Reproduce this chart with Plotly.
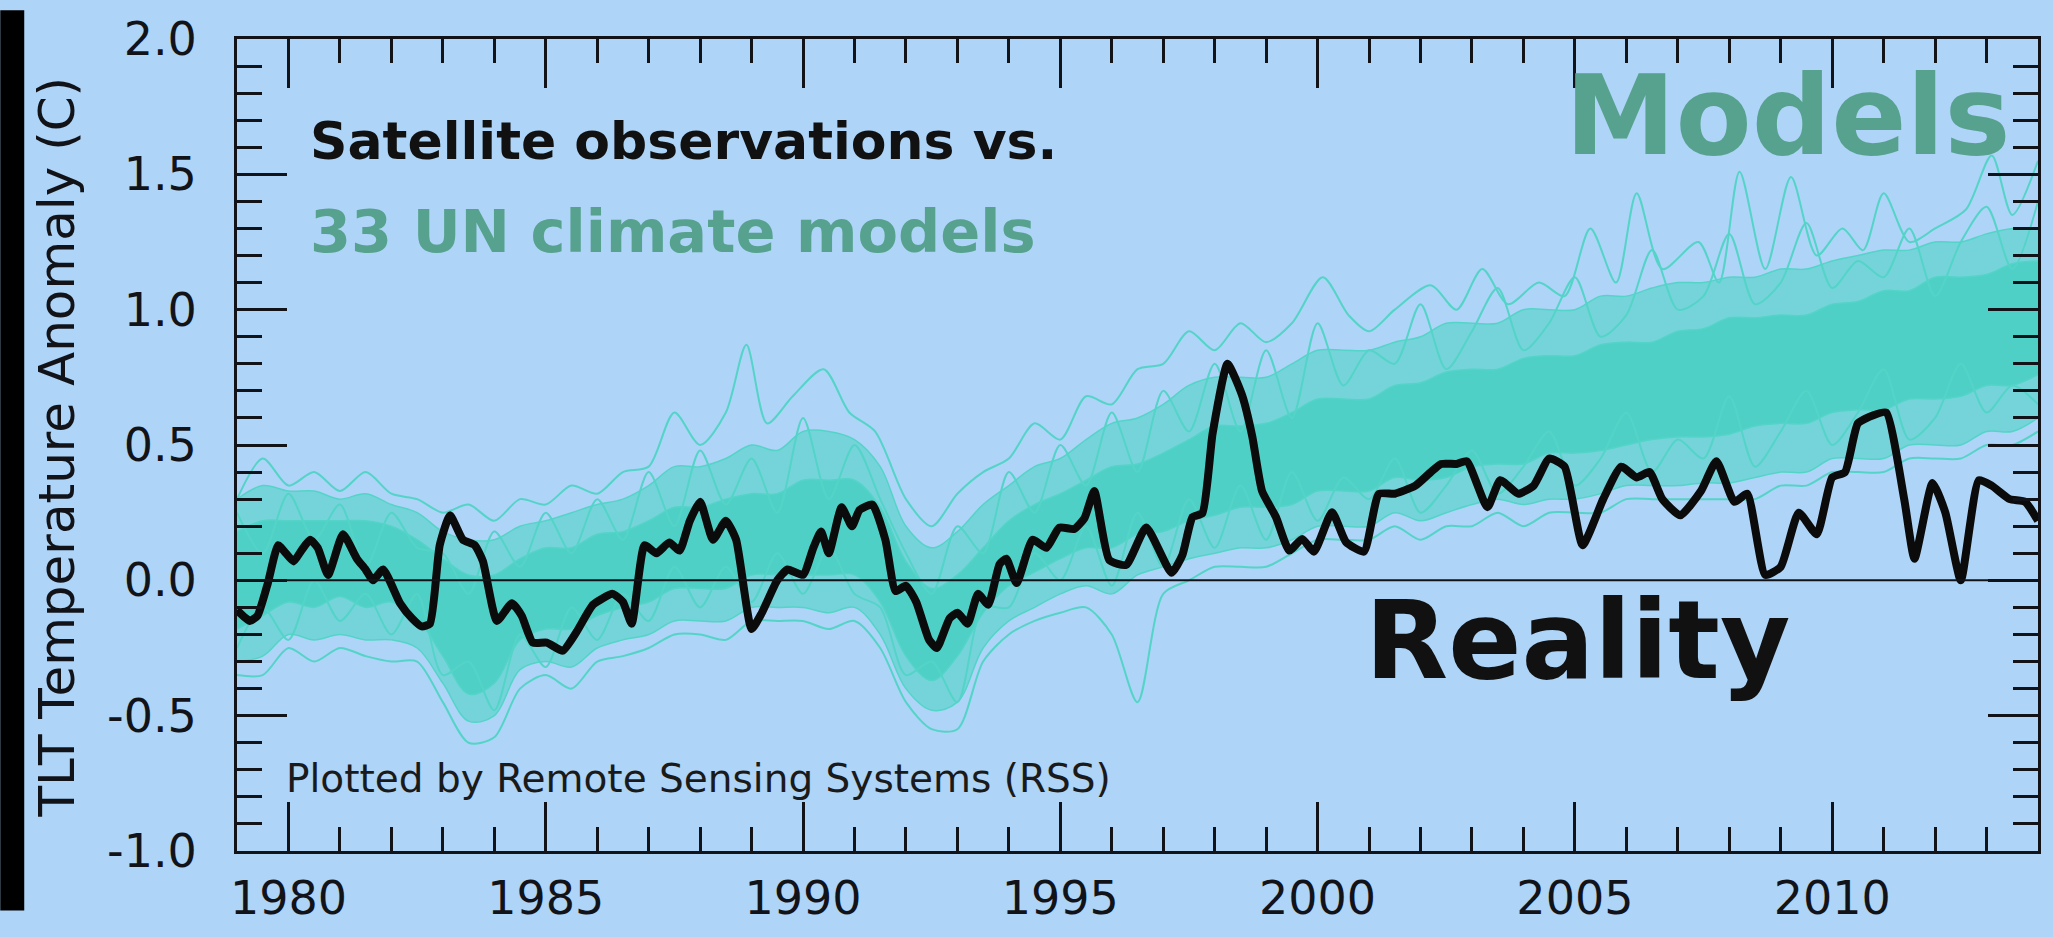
import plotly.graph_objects as go

# ---------------- data ----------------
obs_years = [1979.0, 1979.25, 1979.4, 1979.6, 1979.8, 1979.95, 1980.1, 1980.25, 1980.42, 1980.57,
             1980.77, 1981.06, 1981.33, 1981.5, 1981.64, 1981.84, 1982.17, 1982.4, 1982.59, 1982.75,
             1982.94, 1983.14, 1983.39, 1983.62, 1983.78, 1984.05, 1984.34, 1984.53, 1984.75, 1985.02,
             1985.33, 1985.6, 1985.92, 1986.3, 1986.5, 1986.67, 1986.92, 1987.15, 1987.4, 1987.6,
             1987.8, 1988.0, 1988.25, 1988.5, 1988.7, 1989.0, 1989.2, 1989.5, 1989.7, 1990.0,
             1990.2, 1990.35, 1990.5, 1990.75, 1990.95, 1991.1, 1991.35, 1991.6, 1991.8, 1992.0,
             1992.2, 1992.45, 1992.6, 1992.85, 1993.0, 1993.2, 1993.4, 1993.6, 1993.82, 1993.95,
             1994.15, 1994.46, 1994.73, 1994.98, 1995.27, 1995.47, 1995.66, 1995.95, 1996.28, 1996.67,
             1997.16, 1997.37, 1997.57, 1997.76, 1997.96, 1998.25, 1998.53, 1998.73, 1998.92, 1999.19,
             1999.45, 1999.7, 1999.93, 2000.28, 2000.55, 2000.9, 2001.19, 2001.5, 2001.9, 2002.2,
             2002.4, 2002.7, 2002.9, 2003.3, 2003.55, 2003.9, 2004.2, 2004.5, 2004.8, 2005.15,
             2005.55, 2005.9, 2006.2, 2006.45, 2006.7, 2007.05, 2007.45, 2007.75, 2008.1, 2008.35,
             2008.7, 2009.0, 2009.35, 2009.7, 2010.0, 2010.25, 2010.5, 2010.8, 2011.05, 2011.4,
             2011.6, 2011.95, 2012.2, 2012.5, 2012.85, 2013.1, 2013.45, 2013.75, 2014.0]
obs_vals = [-0.11, -0.15, -0.13, -0.01, 0.13, 0.10, 0.07, 0.11, 0.15, 0.12,
            0.02, 0.17, 0.08, 0.04, 0.00, 0.04, -0.085, -0.14, -0.17, -0.16,
            0.13, 0.24, 0.15, 0.13, 0.07, -0.15, -0.085, -0.13, -0.23, -0.23,
            -0.26, -0.19, -0.09, -0.05, -0.08, -0.16, 0.13, 0.10, 0.14, 0.11,
            0.22, 0.29, 0.15, 0.22, 0.15, -0.18, -0.12, 0.00, 0.04, 0.02,
            0.12, 0.18, 0.10, 0.27, 0.20, 0.26, 0.28, 0.15, -0.04, -0.02,
            -0.08, -0.22, -0.25, -0.14, -0.12, -0.16, -0.05, -0.09, 0.06, 0.08,
            -0.01, 0.15, 0.12, 0.195, 0.19, 0.23, 0.33, 0.075, 0.057, 0.195,
            0.028, 0.092, 0.234, 0.248, 0.543, 0.80, 0.685, 0.532, 0.33, 0.234,
            0.11, 0.153, 0.106, 0.252, 0.142, 0.106, 0.319, 0.32, 0.35, 0.40,
            0.43, 0.43, 0.44, 0.27, 0.37, 0.32, 0.35, 0.45, 0.42, 0.13,
            0.30, 0.42, 0.38, 0.40, 0.30, 0.24, 0.33, 0.44, 0.29, 0.32,
            0.02, 0.05, 0.25, 0.17, 0.38, 0.40, 0.58, 0.61, 0.62, 0.30,
            0.08, 0.36, 0.25, 0.00, 0.37, 0.35, 0.30, 0.29, 0.22]

model_years = [1979.0, 1979.5, 1980.0, 1980.5, 1981.0, 1981.5, 1982.0, 1982.5, 1983.0, 1983.5,
               1984.0, 1984.5, 1985.0, 1985.5, 1986.0, 1986.5, 1987.0, 1987.5, 1988.0, 1988.5,
               1989.0, 1989.5, 1990.0, 1990.5, 1991.0, 1991.5, 1992.0, 1992.5, 1993.0, 1993.5,
               1994.0, 1994.5, 1995.0, 1995.5, 1996.0, 1996.5, 1997.0, 1997.5, 1998.0, 1998.5,
               1999.0, 1999.5, 2000.0, 2000.5, 2001.0, 2001.5, 2002.0, 2002.5, 2003.0, 2003.5,
               2004.0, 2004.5, 2005.0, 2005.5, 2006.0, 2006.5, 2007.0, 2007.5, 2008.0, 2008.5,
               2009.0, 2009.5, 2010.0, 2010.5, 2011.0, 2011.5, 2012.0, 2012.5, 2013.0, 2013.5, 2014.0]
# dense middle of the model spread
models_core_low = [-0.18, -0.13, -0.08, -0.10, -0.06, -0.10, -0.08, -0.14, -0.28, -0.42,
                   -0.38, -0.22, -0.18, -0.18, -0.13, -0.10, -0.08, -0.03, -0.03, -0.03,
                   0.02, 0.02, 0.02, 0.02, 0.02, -0.08, -0.28, -0.37, -0.28, -0.12,
                   -0.02, 0.03, 0.08, 0.12, 0.12, 0.17, 0.18, 0.22, 0.24, 0.27,
                   0.27, 0.28, 0.33, 0.33, 0.33, 0.38, 0.37, 0.38, 0.42, 0.43,
                   0.43, 0.47, 0.47, 0.48, 0.50, 0.52, 0.53, 0.53, 0.54, 0.57,
                   0.58, 0.58, 0.62, 0.63, 0.63, 0.67, 0.67, 0.68, 0.72, 0.72, 0.76]
models_core_high = [0.18, 0.22, 0.22, 0.22, 0.22, 0.22, 0.20, 0.15, 0.08, 0.02,
                    0.02, 0.08, 0.12, 0.12, 0.17, 0.18, 0.22, 0.27, 0.27, 0.30,
                    0.32, 0.32, 0.37, 0.37, 0.37, 0.27, 0.07, -0.03, 0.02, 0.12,
                    0.22, 0.28, 0.32, 0.37, 0.42, 0.43, 0.47, 0.52, 0.57, 0.57,
                    0.58, 0.62, 0.67, 0.67, 0.67, 0.72, 0.73, 0.77, 0.78, 0.78,
                    0.82, 0.83, 0.83, 0.87, 0.88, 0.88, 0.92, 0.93, 0.97, 0.97,
                    0.98, 0.98, 1.02, 1.03, 1.07, 1.07, 1.12, 1.12, 1.13, 1.17, 1.18]
# wider fringe where many single runs still overlap
models_p10 = [-0.30, -0.28, -0.20, -0.22, -0.20, -0.22, -0.22, -0.25, -0.38, -0.52,
              -0.50, -0.33, -0.30, -0.32, -0.25, -0.22, -0.20, -0.15, -0.15, -0.15,
              -0.10, -0.10, -0.10, -0.12, -0.10, -0.20, -0.40, -0.48, -0.45, -0.25,
              -0.15, -0.10, -0.05, -0.02, -0.05, 0.02, 0.05, 0.08, 0.10, 0.12,
              0.12, 0.15, 0.20, 0.20, 0.20, 0.25, 0.22, 0.25, 0.28, 0.30,
              0.28, 0.30, 0.30, 0.32, 0.35, 0.35, 0.35, 0.36, 0.36, 0.38,
              0.40, 0.40, 0.45, 0.45, 0.45, 0.50, 0.50, 0.50, 0.55, 0.55, 0.60]
models_p90 = [0.30, 0.35, 0.33, 0.33, 0.30, 0.32, 0.28, 0.25, 0.18, 0.15,
              0.15, 0.20, 0.22, 0.25, 0.28, 0.30, 0.35, 0.42, 0.42, 0.45,
              0.50, 0.48, 0.55, 0.55, 0.52, 0.42, 0.20, 0.12, 0.18, 0.28,
              0.35, 0.42, 0.45, 0.52, 0.58, 0.60, 0.65, 0.72, 0.75, 0.75,
              0.75, 0.80, 0.85, 0.85, 0.85, 0.88, 0.90, 0.95, 0.95, 0.95,
              1.00, 1.00, 1.00, 1.05, 1.05, 1.08, 1.10, 1.10, 1.12, 1.12,
              1.15, 1.15, 1.18, 1.20, 1.22, 1.22, 1.25, 1.25, 1.28, 1.30, 1.30]
# lowest single run
models_min = [-0.35, -0.35, -0.25, -0.30, -0.25, -0.28, -0.30, -0.30, -0.45, -0.60,
              -0.58, -0.40, -0.35, -0.40, -0.30, -0.28, -0.25, -0.20, -0.20, -0.22,
              -0.15, -0.15, -0.15, -0.18, -0.15, -0.25, -0.45, -0.55, -0.55, -0.30,
              -0.20, -0.15, -0.12, -0.10, -0.20, -0.45, -0.05, 0.00, 0.05, 0.05,
              0.05, 0.10, 0.15, 0.15, 0.15, 0.20, 0.15, 0.20, 0.20, 0.25,
              0.20, 0.25, 0.25, 0.25, 0.30, 0.30, 0.30, 0.30, 0.30, 0.30,
              0.35, 0.35, 0.40, 0.40, 0.40, 0.45, 0.45, 0.45, 0.50, 0.50, 0.55]
# highest single runs (spikes)
max_years = [1979.0, 1979.5, 1980.0, 1980.5, 1981.0, 1981.5, 1982.0, 1982.5, 1983.0, 1983.5,
             1984.0, 1984.5, 1985.0, 1985.5, 1986.0, 1986.5, 1987.0, 1987.5, 1988.0, 1988.5,
             1988.9, 1989.3, 1989.8, 1990.4, 1990.9, 1991.4, 1992.0, 1992.5, 1993.0, 1993.5,
             1994.0, 1994.5, 1995.0, 1995.5, 1996.0, 1996.5, 1997.0, 1997.5, 1998.0, 1998.5,
             1999.0, 1999.5, 2000.1, 2000.6, 2001.0, 2001.5, 2002.2, 2002.7, 2003.2, 2003.7,
             2004.3, 2004.8, 2005.3, 2005.8, 2006.2, 2006.7, 2007.4, 2007.8, 2008.2, 2008.7,
             2009.2, 2009.7, 2010.2, 2010.6, 2011.0, 2011.5, 2012.0, 2012.6, 2013.1, 2013.5, 2014.0]
max_vals = [0.30, 0.45, 0.35, 0.40, 0.33, 0.40, 0.32, 0.30, 0.25, 0.28,
            0.22, 0.30, 0.28, 0.35, 0.32, 0.40, 0.42, 0.62, 0.50, 0.62,
            0.87, 0.58, 0.68, 0.78, 0.62, 0.55, 0.30, 0.20, 0.32, 0.40,
            0.45, 0.58, 0.52, 0.68, 0.65, 0.78, 0.80, 0.92, 0.85, 0.95,
            0.88, 0.95, 1.12, 0.98, 0.92, 1.00, 1.09, 1.00, 1.15, 1.02,
            1.10, 1.05, 1.30, 1.10, 1.43, 1.15, 1.25, 1.10, 1.51, 1.15,
            1.49, 1.20, 1.30, 1.22, 1.43, 1.25, 1.30, 1.37, 1.57, 1.35, 1.55]
# two single runs with visible wiggles at the edges of the spread
model_run_a = [0.25, 0.10, 0.32, 0.15, 0.28, 0.05, 0.25, 0.12, 0.10, -0.05,
               0.18, 0.05, 0.25, 0.10, 0.30, 0.15, 0.40, 0.20, 0.48, 0.28,
               0.45, 0.25, 0.60, 0.30, 0.50, 0.30, 0.10, -0.05, 0.20, 0.10,
               0.40, 0.25, 0.50, 0.35, 0.62, 0.40, 0.70, 0.55, 0.80, 0.55,
               0.85, 0.60, 0.95, 0.72, 0.85, 0.80, 1.02, 0.78, 0.92, 1.08,
               0.85, 0.95, 1.12, 0.90, 0.98, 1.22, 1.00, 1.05, 1.28, 1.02,
               1.10, 1.32, 1.08, 1.18, 1.12, 1.30, 1.05, 1.25, 1.38, 1.15, 1.40]
model_run_b = [-0.25, -0.10, -0.22, 0.00, -0.15, -0.05, -0.20, -0.05, -0.35, -0.30,
               -0.48, -0.20, -0.32, -0.10, -0.22, -0.05, -0.15, 0.05, -0.10, 0.05,
               -0.08, 0.10, -0.05, 0.12, -0.05, -0.10, -0.35, -0.30, -0.45, -0.10,
               -0.10, 0.10, 0.00, 0.20, -0.02, 0.25, 0.05, 0.30, 0.12, 0.35,
               0.15, 0.40, 0.22, 0.38, 0.30, 0.45, 0.25, 0.35, 0.48, 0.32,
               0.42, 0.55, 0.35, 0.45, 0.62, 0.40, 0.52, 0.45, 0.68, 0.42,
               0.55, 0.70, 0.50, 0.62, 0.78, 0.52, 0.60, 0.80, 0.62, 0.72, 0.65]

year_ticks = [1980, 1985, 1990, 1995, 2000, 2005, 2010]
year_labels = ["1980", "1985", "1990", "1995", "2000", "2005", "2010"]
anom_ticks = [-1.0, -0.5, 0.0, 0.5, 1.0, 1.5, 2.0]
anom_labels = ["-1.0", "-0.5", "0.0", "0.5", "1.0", "1.5", "2.0"]

# ---------------- style ----------------
BG = "#AED4F7"
TEAL_LINE = "rgb(84,212,200)"
TEAL_DENSE = "rgba(76,208,196,0.93)"
TEAL_FRINGE = "rgba(82,212,200,0.62)"
TEAL_TEXT = "#56A28E"
INK = "#111318"
FONT = "DejaVu Sans"

W, H = 2053, 937
ML, MR, MT, MB = 237, 13, 30, 62
PW, PH = W - ML - MR, H - MT - MB

fig = go.Figure()


def band(lo, hi, color):
    fig.add_trace(go.Scatter(x=model_years, y=lo, mode="lines",
                             line=dict(color=TEAL_LINE, width=1.5, shape="spline"),
                             hoverinfo="skip"))
    fig.add_trace(go.Scatter(x=model_years, y=hi, mode="lines", fill="tonexty", fillcolor=color,
                             line=dict(color=TEAL_LINE, width=1.5, shape="spline"),
                             hoverinfo="skip"))


band(models_p10, models_p90, TEAL_FRINGE)
band(models_core_low, models_core_high, TEAL_DENSE)
for xs, run in ((model_years, models_min), (max_years, max_vals),
                (model_years, model_run_a), (model_years, model_run_b)):
    fig.add_trace(go.Scatter(x=xs, y=run, mode="lines",
                             line=dict(color=TEAL_LINE, width=2, shape="spline", smoothing=0.8),
                             hoverinfo="skip"))

fig.add_trace(go.Scatter(x=obs_years, y=obs_vals, mode="lines",
                         line=dict(color="#0b0b0b", width=8, shape="spline", smoothing=0.5),
                         hoverinfo="skip"))

fig.add_shape(type="line", xref="x", yref="y", x0=1979, x1=2014, y0=0, y1=0,
              line=dict(color=INK, width=2), layer="above")
# black strip at the left edge of the picture
fig.add_shape(type="rect", xref="paper", yref="paper",
              x0=-ML / PW, x1=(24 - ML) / PW, y0=-MB / PH, y1=1 + MT / PH,
              fillcolor="#000000", line=dict(width=0), layer="below")


def px(xf):
    return (xf - ML) / PW


def py(yf):
    return (MT + PH - yf) / PH


ann = [
    dict(text="Satellite observations vs.", x=px(308), y=py(136), xanchor="left", yanchor="middle",
         font=dict(family=FONT, size=52, color="#111111", weight="bold")),
    dict(text="33 UN climate models", x=px(308), y=py(230), xanchor="left", yanchor="middle",
         font=dict(family=FONT, size=59, color=TEAL_TEXT, weight="bold")),
    dict(text="Models", x=px(2015), y=py(110), xanchor="right", yanchor="middle",
         font=dict(family=FONT, size=111, color=TEAL_TEXT, weight="bold")),
    dict(text="Reality", x=px(1364), y=py(656), xanchor="left", yanchor="middle",
         font=dict(family=FONT, size=108, color="#111111", weight="bold")),
    dict(text="Plotted by Remote Sensing Systems (RSS)", x=px(284), y=py(800),
         xanchor="left", yanchor="middle", font=dict(family=FONT, size=39, color="#1a1a1a")),
    dict(text="TLT Temperature Anomaly (C)", x=px(57), y=py(455), textangle=-90,
         xanchor="center", yanchor="middle", font=dict(family=FONT, size=50, color=INK)),
]
for a in ann:
    fig.add_annotation(xref="paper", yref="paper", showarrow=False, **a)

axis_common = dict(showline=True, linecolor=INK, linewidth=3, mirror="ticks", ticks="inside",
                   tickcolor=INK, tickwidth=3, showgrid=False, zeroline=False,
                   layer="above traces", tickfont=dict(family=FONT, size=46, color=INK))

fig.update_xaxes(range=[1979, 2014], tickmode="array", tickvals=year_ticks, ticktext=year_labels,
                 ticklen=49, ticklabelstandoff=5,
                 minor=dict(dtick=1, tick0=1979, ticks="inside", ticklen=24, tickwidth=3,
                            tickcolor=INK, showgrid=False),
                 **axis_common)
fig.update_yaxes(range=[-1, 2], tickmode="array", tickvals=anom_ticks, ticktext=anom_labels,
                 ticklen=50, ticklabelstandoff=28,
                 minor=dict(dtick=0.1, tick0=0, ticks="inside", ticklen=25, tickwidth=3,
                            tickcolor=INK, showgrid=False),
                 **axis_common)

fig.update_layout(width=W, height=H, margin=dict(l=ML, r=MR, t=MT, b=MB, pad=0),
                  paper_bgcolor=BG, plot_bgcolor=BG, showlegend=False)

fig.write_html("out.html", config={"displayModeBar": False},
               post_script="document.body.style.margin='0px';")
